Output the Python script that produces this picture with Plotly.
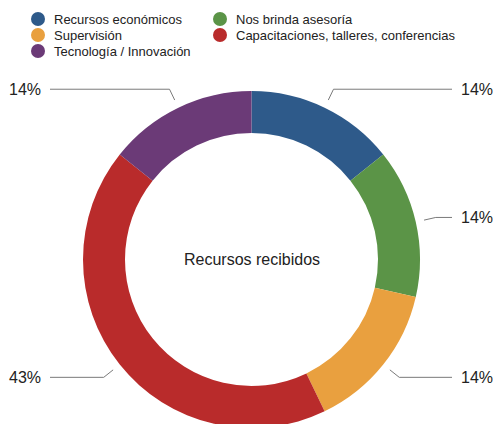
import numpy as np
import plotly.graph_objects as go

# ---- data ----
categories = ["Recursos económicos", "Nos brinda asesoría", "Supervisión",
              "Capacitaciones, talleres, conferencias", "Tecnología / Innovación"]
values = [1, 1, 1, 3, 1]
colors = ["#2e5a8a", "#5b9447", "#e9a03f", "#b92b2b", "#6b3a77"]
center_title = "Recursos recibidos"

W, H = 493, 428          # figure is a few px taller than the window: pie bottom is clipped
cx, cy, R = 251.5, 259.5, 168.5   # pie geometry in px
ring = 42
TXT = "#222222"

def px2paper(x, y):
    return x / W, 1 - y / H

fig = go.Figure()

# pie placement
x0, _ = px2paper(cx - R, 0)
x1, _ = px2paper(cx + R, 0)
_, ytop = px2paper(0, cy - R)
fig.add_trace(go.Pie(
    labels=categories, values=values, sort=False, direction="clockwise",
    rotation=0, hole=(R - ring) / R,
    marker=dict(colors=colors, line=dict(width=0)),
    textinfo="none", showlegend=False, hoverinfo="label+percent",
    domain=dict(x=[x0, x1], y=[0, ytop]),
))

# legend (two columns, row-major) drawn on a hidden pixel-scaled axis
col_x = [38, 220]
text_dx = 14
row_y0, row_dy = 19, 16
leg_x = [col_x[i % 2] for i in range(len(categories))]
leg_y = [row_y0 + row_dy * (i // 2) for i in range(len(categories))]
fig.add_trace(go.Scatter(x=leg_x, y=leg_y, mode="markers", showlegend=False,
                         hoverinfo="skip",
                         marker=dict(color=colors, size=14, symbol="circle",
                                     line=dict(width=0))))

annotations = []
for name, lx, ly in zip(categories, leg_x, leg_y):
    annotations.append(dict(x=lx + text_dx, y=ly, xref="x", yref="y", text=name,
                            showarrow=False, xanchor="left", yanchor="middle",
                            font=dict(size=13, color=TXT)))

# leader lines and percentage labels
total = sum(values)
cum = np.cumsum([0] + values[:-1])
shapes = []
for v, c0 in zip(values, cum):
    a = np.deg2rad((c0 + v / 2) / total * 360)
    r1, r2 = R + 8.5, R + 20.5
    sx, sy = cx + r1 * np.sin(a), cy - r1 * np.cos(a)
    ex, ey = cx + r2 * np.sin(a), cy - r2 * np.cos(a)
    right = np.sin(a) > 0
    lx = 452 if right else 50
    tx = 459 if right else 43
    path = "M {} {} L {} {} L {} {}".format(sx, sy, ex, ey, lx, ey)
    shapes.append(dict(type="path", path=path, xref="x", yref="y",
                       line=dict(color="#7a7a7a", width=1)))
    annotations.append(dict(x=tx, y=ey, xref="x", yref="y",
                            text=f"{round(v / total * 100)}%", showarrow=False,
                            xanchor="left" if right else "right", yanchor="middle",
                            font=dict(size=16, color=TXT)))

annotations.append(dict(x=cx, y=cy, xref="x", yref="y", text=center_title,
                        showarrow=False, xanchor="center", yanchor="middle",
                        font=dict(size=16, color=TXT)))

fig.update_layout(
    width=W, height=H,
    margin=dict(l=0, r=0, t=0, b=0),
    paper_bgcolor="white", plot_bgcolor="rgba(0,0,0,0)",
    font=dict(family="Liberation Sans, Arial, sans-serif", color=TXT),
    xaxis=dict(visible=False, range=[0, W], domain=[0, 1], fixedrange=True),
    yaxis=dict(visible=False, range=[H, 0], domain=[0, 1], fixedrange=True),
    showlegend=False,
    shapes=shapes, annotations=annotations,
)

fig.write_html("out.html", config={"displayModeBar": False},
               post_script="document.body.style.margin='0';"
                           "document.body.style.overflow='hidden';")
